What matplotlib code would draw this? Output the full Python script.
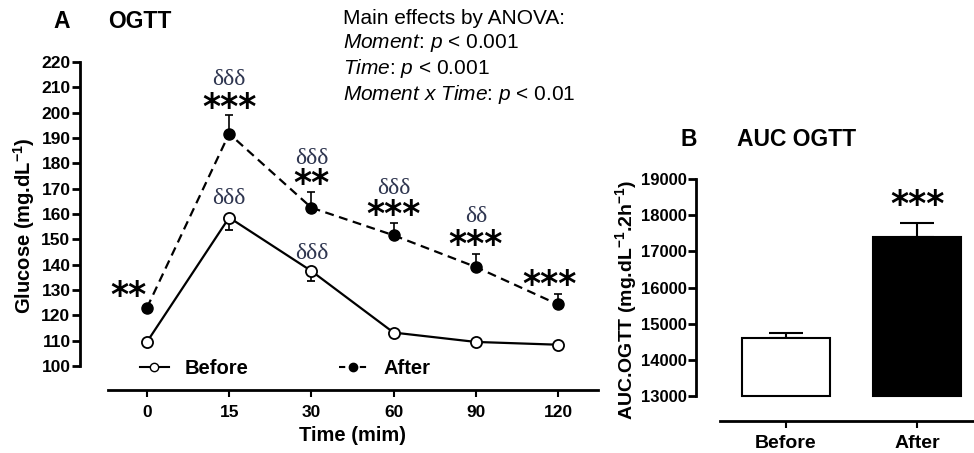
import numpy as np
import matplotlib
matplotlib.use('Agg')
import matplotlib.pyplot as plt
from matplotlib.lines import Line2D

plt.rcParams['font.family'] = ['Liberation Sans', 'DejaVu Sans']
plt.rcParams['mathtext.fontset'] = 'custom'
plt.rcParams['mathtext.rm'] = 'Liberation Sans'
plt.rcParams['mathtext.it'] = 'Liberation Sans:italic'
plt.rcParams['mathtext.bf'] = 'Liberation Sans:bold'

# ── data ─────────────────────────────────────────────────────
time_labels = ['0', '15', '30', '60', '90', '120']
before_mean = [109.5, 158.6, 137.5, 113.2, 109.5, 108.4]
before_sem = [0.6, 5.0, 4.0, 0.6, 0.6, 0.6]
after_mean = [123.0, 191.7, 162.5, 151.6, 139.1, 124.3]
after_sem = [0.8, 7.5, 6.0, 5.0, 5.0, 4.0]

stars = ['**', '***', '**', '***', '***', '***']
star_y = [127.5, 202.0, 171.8, 159.5, 147.8, 132.0]
star_dx = [-0.23, 0.0, 0.0, 0.0, 0.0, -0.1]
delta_after = ['', 'δδδ', 'δδδ', 'δδδ', 'δδ', '']
delta_after_y = [0, 213.0, 182.0, 170.0, 159.0, 0]
delta_before = ['', 'δδδ', 'δδδ', '', '', '']
delta_before_y = [0, 166.0, 144.6, 0, 0, 0]

auc_groups = ['Before', 'After']
auc_mean = [14600, 17400]
auc_sem = [130, 380]
auc_stars = ['', '***']

W, H = 974, 453
fig = plt.figure(figsize=(W / 100, H / 100), dpi=100)

STAR_FONT = 'DejaVu Sans'
DELTA_COLOR = '#2f3650'


def px_axes(x0, x1, y0, y1):
    # pixel box (top-left origin) -> figure axes
    return fig.add_axes([x0 / W, 1 - y1 / H, (x1 - x0) / W, (y1 - y0) / H])


# ── PANEL A: OGTT curve ──────────────────────────────────────
ax = px_axes(108, 598, 62, 390)
x = np.arange(len(time_labels))
ax.errorbar(x, before_mean, yerr=[before_sem, np.zeros(len(x))], color='black',
            lw=1.6, marker='o', ms=8, mfc='white', mec='black', mew=1.3,
            capsize=3, elinewidth=1.2, capthick=1.2, zorder=3)
ax.errorbar(x, after_mean, yerr=[np.zeros(len(x)), after_sem], color='black',
            lw=1.6, ls=(0, (4, 2.5)), marker='o', ms=8, mfc='black', mec='black',
            capsize=3, elinewidth=1.2, capthick=1.2, zorder=3)

for i in range(len(x)):
    ax.text(x[i] + star_dx[i], star_y[i], stars[i], ha='center', va='center',
            fontsize=25, fontweight='bold', family=STAR_FONT)
    if delta_after[i]:
        ax.text(x[i], delta_after_y[i], delta_after[i], ha='center', va='center',
                fontsize=17, family='Liberation Serif', color=DELTA_COLOR)
    if delta_before[i]:
        ax.text(x[i], delta_before_y[i], delta_before[i], ha='center', va='center',
                fontsize=17, family='Liberation Serif', color=DELTA_COLOR)

ax.set_xlim(-0.474, 5.487)
ax.set_ylim(100 - 24 / 2.533, 220)
ax.set_xticks(x)
ax.set_xticklabels(time_labels)
ax.set_yticks(np.arange(100, 221, 10))
for s in ['top', 'right']:
    ax.spines[s].set_visible(False)
ax.spines['left'].set_position(('outward', 20))
ax.spines['left'].set_bounds(100, 220)
ax.spines['left'].set_linewidth(2)
ax.spines['bottom'].set_linewidth(2)
ax.tick_params(axis='y', length=6, width=2, labelsize=12.5, pad=1)
ax.tick_params(axis='x', length=5, width=1.5, labelsize=12.5, pad=6)
for lab in ax.get_xticklabels() + ax.get_yticklabels():
    lab.set_fontweight('bold')
ax.set_ylabel(r'Glucose (mg.dL$^{\mathbf{-1}}$)', fontsize=14.5, fontweight='bold', labelpad=3)
ax.set_xlabel('Time (mim)', fontsize=14.5, fontweight='bold', labelpad=4)

handles = [Line2D([], [], color='black', lw=1.5, marker='o', ms=6, mfc='white', mec='black'),
           Line2D([], [], color='black', lw=1.5, ls=(0, (3, 2)), marker='o', ms=6, mfc='black')]
ax.legend(handles, ['Before', 'After'], loc='center left', bbox_to_anchor=(0.066, 0.066),
          ncol=2, frameon=False, prop={'weight': 'bold', 'size': 14.5}, handlelength=1.4,
          columnspacing=4.5, handletextpad=0.8, borderaxespad=0, borderpad=0)

fig.text(53 / W, 1 - 22 / H, 'A', fontsize=16.5, fontweight='bold', va='center')
fig.text(108 / W, 1 - 22 / H, 'OGTT', fontsize=16.5, fontweight='bold', va='center')

anova = ['Main effects by ANOVA:',
         r'$\it{Moment}$: $\it{p}$ < 0.001',
         r'$\it{Time}$: $\it{p}$ < 0.001',
         r'$\it{Moment\ x\ Time}$: $\it{p}$ < 0.01']
for k, line in enumerate(anova):
    fig.text(343 / W, 1 - (18 + 25.5 * k) / H, line, fontsize=15, va='center')

# ── PANEL B: AUC bars ────────────────────────────────────────
bx = px_axes(720, 974, 179, 421)
xb = np.arange(len(auc_groups))
bx.bar(xb, np.array(auc_mean) - 13000, bottom=13000, width=0.67,
       color=['white', 'black'], edgecolor='black', linewidth=1.5, zorder=2)
bx.errorbar(xb, auc_mean, yerr=[np.zeros(2), auc_sem], fmt='none', ecolor='black',
            elinewidth=1.5, capsize=12, capthick=1.5, zorder=1)
for i in range(len(xb)):
    if auc_stars[i]:
        bx.text(xb[i], 18280, auc_stars[i], ha='center', va='center',
                fontsize=25, fontweight='bold', family=STAR_FONT)

bx.set_xlim(-0.504, 1.435)
bx.set_ylim(13000 - 25 / 36.17 * 1000, 19000)
bx.set_xticks(xb)
bx.set_xticklabels(auc_groups)
bx.set_yticks(np.arange(13000, 19001, 1000))
for s in ['top', 'right']:
    bx.spines[s].set_visible(False)
bx.spines['left'].set_position(('outward', 17))
bx.spines['left'].set_bounds(13000, 19000)
bx.spines['left'].set_linewidth(2)
bx.spines['bottom'].set_linewidth(2)
bx.tick_params(axis='y', length=6, width=2, labelsize=12, pad=1)
bx.tick_params(axis='x', length=5, width=1.5, labelsize=14, pad=5)
for lab in bx.get_xticklabels() + bx.get_yticklabels():
    lab.set_fontweight('bold')
bx.set_ylabel(r'AUC.OGTT (mg.dL$^{\mathbf{-1}}$.2h$^{\mathbf{-1}}$)', fontsize=14,
              fontweight='bold', labelpad=1)

fig.text(680 / W, 1 - 140 / H, 'B', fontsize=16.5, fontweight='bold', va='center')
fig.text(737 / W, 1 - 140 / H, 'AUC OGTT', fontsize=16.5, fontweight='bold', va='center')

fig.savefig('out.png', dpi=100)
plt.close(fig)
